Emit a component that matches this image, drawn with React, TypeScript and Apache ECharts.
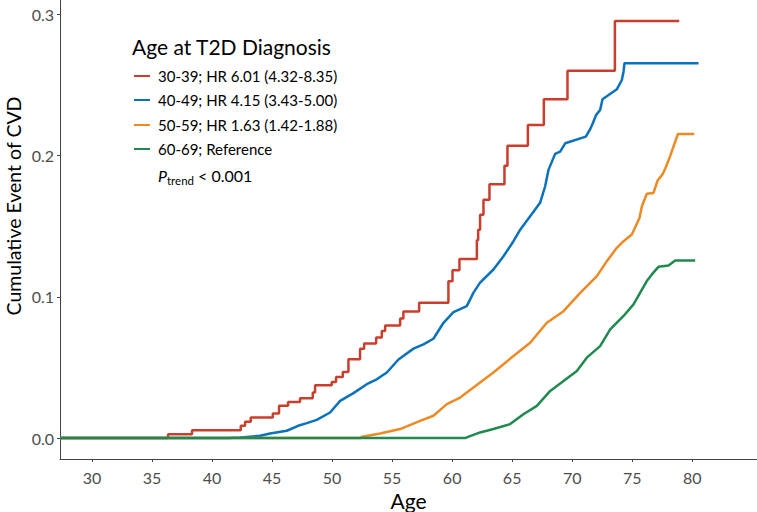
import React, { useEffect, useRef } from "react";
import * as echarts from "echarts";

// ages at which each cumulative incidence step occurs, and the new values
const redAge = [27.33, 36.33, 38.33, 42.39, 42.75, 43.22, 45.06, 45.58, 46.33, 47.33, 48.39, 48.58, 49.97, 50.33, 50.89, 51.36, 52.33, 52.67, 53.67, 54.14, 54.42, 55.67, 55.94, 57.25, 59.69, 60.03, 60.61, 62.06, 62.17, 62.33, 62.61, 63.11, 64.36, 64.61, 66.31, 67.64, 69.61, 73.56, 78.92];
const redVal = [0, 0.0028, 0.0056, 0.0087, 0.0115, 0.0146, 0.0174, 0.0228, 0.0256, 0.0282, 0.0323, 0.0374, 0.0397, 0.0433, 0.0468, 0.0558, 0.0633, 0.067, 0.0711, 0.0757, 0.0797, 0.0847, 0.0896, 0.0958, 0.111, 0.1188, 0.1268, 0.14, 0.1475, 0.1581, 0.1687, 0.1797, 0.1927, 0.2068, 0.2216, 0.2397, 0.2599, 0.2952, 0.2952];

const blueAge = [27.33, 41.33, 42.33, 44.0, 44.83, 46.22, 47.17, 47.89, 48.72, 49.83, 50.67, 51.78, 52.89, 53.72, 54.56, 55.53, 56.78, 57.61, 58.44, 59.28, 60.11, 61.22, 61.78, 62.33, 63.44, 64.28, 65.11, 65.67, 66.5, 67.33, 67.75, 68.03, 68.58, 69.0, 69.42, 71.14, 71.5, 71.72, 72.0, 72.33, 72.53, 73.72, 74.14, 74.28, 74.36, 80.53];
const blueVal = [0, 0, 0.0005, 0.0016, 0.0033, 0.0052, 0.0087, 0.0106, 0.0129, 0.0181, 0.0263, 0.0318, 0.0381, 0.0416, 0.0464, 0.0556, 0.0633, 0.0663, 0.0703, 0.0816, 0.0891, 0.0934, 0.1029, 0.11, 0.1193, 0.1287, 0.1393, 0.1475, 0.157, 0.1665, 0.1782, 0.1898, 0.2011, 0.2027, 0.2086, 0.2133, 0.2186, 0.2228, 0.2287, 0.2322, 0.2397, 0.2468, 0.2534, 0.2593, 0.2653, 0.2653];

const orangeAge = [27.33, 52.33, 52.5, 54.0, 55.67, 57.33, 58.44, 59.56, 60.67, 62.33, 63.44, 65.11, 66.5, 67.89, 69.28, 70.67, 72.06, 72.89, 73.72, 74.28, 74.97, 75.61, 75.81, 76.22, 76.78, 77.11, 77.56, 77.83, 78.17, 78.81, 80.17];
const orangeVal = [0, 0, 0.0009, 0.0033, 0.0064, 0.0122, 0.0158, 0.024, 0.0287, 0.0393, 0.0464, 0.0581, 0.0675, 0.0816, 0.0898, 0.1028, 0.1146, 0.1252, 0.1346, 0.1393, 0.144, 0.1557, 0.164, 0.1729, 0.1735, 0.1821, 0.187, 0.1922, 0.1997, 0.2152, 0.2152];

const greenAge = [27.33, 61.08, 61.33, 62.33, 63.44, 64.83, 65.94, 67.06, 68.17, 69.28, 70.39, 71.22, 72.33, 73.17, 74.28, 75.11, 75.67, 76.22, 76.64, 77.19, 78.03, 78.58, 80.25];
const greenVal = [0, 0, 0.0009, 0.004, 0.0064, 0.0099, 0.0169, 0.0228, 0.0334, 0.0404, 0.0475, 0.0569, 0.0651, 0.0769, 0.0864, 0.0946, 0.1029, 0.1111, 0.1158, 0.1212, 0.1221, 0.1256, 0.1256];

const xTicks = [30, 35, 40, 45, 50, 55, 60, 65, 70, 75, 80];
const yTicks = [0, 0.1, 0.2, 0.3];

const xTitle = "Age";
const yTitle = "Cumulative Event of CVD";
const legendTitle = "Age at T2D Diagnosis";
const legendLabels = [
  "30-39; HR 6.01 (4.32-8.35)",
  "40-49; HR 4.15 (3.43-5.00)",
  "50-59; HR 1.63 (1.42-1.88)",
  "60-69; Reference",
];
const colors = ["#C93F2E", "#0A72BA", "#EC8A24", "#1F8A4E"];
// red has few, large steps; the others have many tiny steps
const stepMode: any[] = ["end", false, false, false];

const FONT = "Lato, 'Open Sans', sans-serif";

function zip(a: number[], b: number[]) {
  return a.map((v, i) => [v, b[i]]);
}

export default function App() {
  const ref = useRef<HTMLDivElement>(null);
  useEffect(() => {
    if (!ref.current) return;
    const chart = echarts.init(ref.current, null, { renderer: "svg" });
    const seriesData = [
      zip(redAge, redVal),
      zip(blueAge, blueVal),
      zip(orangeAge, orangeVal),
      zip(greenAge, greenVal),
    ];
    const graphics: any[] = [
      {
        type: "text",
        x: 13,
        y: 206,
        rotation: Math.PI / 2,
        style: {
          text: yTitle,
          fontSize: 19.5,
          fontFamily: FONT,
          fill: "#000",
          align: "center",
          verticalAlign: "middle",
        },
      },
      {
        type: "text",
        x: 132,
        y: 46,
        style: { text: legendTitle, fontSize: 21, fontFamily: FONT, fill: "#000", verticalAlign: "middle" },
      },
    ];
    const rowY = [76, 100, 125, 149];
    legendLabels.forEach((lab, i) => {
      graphics.push({
        type: "line",
        shape: { x1: 134, y1: rowY[i], x2: 150, y2: rowY[i] },
        style: { stroke: colors[i], lineWidth: 2 },
      });
      graphics.push({
        type: "text",
        x: 158,
        y: rowY[i],
        style: {
          text: lab,
          fontSize: 15,
          fontFamily: FONT,
          fill: "#000",
          verticalAlign: "middle",
        },
      });
    });
    graphics.push({
      type: "text",
      x: 158,
      y: 175,
      style: {
        text: "{p|P}{s|trend}{t| < 0.001}",
        verticalAlign: "middle",
        rich: {
          p: { fontSize: 16, fontStyle: "italic", fontFamily: FONT, fill: "#000" },
          s: { fontSize: 11.5, fontFamily: FONT, fill: "#000", padding: [10, 0, 0, 0] },
          t: { fontSize: 16, fontFamily: FONT, fill: "#000" },
        },
      },
    });

    chart.setOption({
      animation: false,
      backgroundColor: "#fff",
      grid: { left: 60, right: 0, top: 0, bottom: 53, containLabel: false, outerBoundsMode: "none" },
      xAxis: {
        type: "value",
        min: 27.33,
        max: 85.4,
        name: xTitle,
        nameLocation: "middle",
        nameGap: 27,
        nameTextStyle: { fontSize: 21, fontFamily: FONT, color: "#000" },
        axisLine: { show: true, onZero: false, lineStyle: { color: "#444", width: 1 } },
        axisTick: { show: true, length: 3, lineStyle: { color: "#444" }, customValues: xTicks },
        axisLabel: {
          customValues: xTicks,
          fontSize: 16,
          fontFamily: FONT,
          color: "#4d4d4d",
          margin: 10,
        },
        splitLine: { show: false },
      },
      yAxis: {
        type: "value",
        min: -0.0148,
        max: 0.31,
        axisLine: { show: true, onZero: false, lineStyle: { color: "#444", width: 1 } },
        axisTick: { show: true, length: 3, lineStyle: { color: "#444" }, customValues: yTicks },
        axisLabel: {
          customValues: yTicks,
          fontSize: 16,
          fontFamily: FONT,
          color: "#4d4d4d",
          margin: 6,
          formatter: (v: number) => v.toFixed(1),
        },
        splitLine: { show: false },
      },
      series: seriesData.map((d, i) => ({
        type: "line",
        name: legendLabels[i],
        data: d,
        step: stepMode[i],
        showSymbol: false,
        symbol: "none",
        z: 2 + i,
        lineStyle: { color: colors[i], width: 2.5 },
        itemStyle: { color: colors[i] },
      })),
      graphic: graphics,
    });
    return () => chart.dispose();
  }, []);
  return (
    <div
      ref={ref}
      style={{ position: "absolute", left: 0, top: 0, width: 757, height: 512 }}
    />
  );
}
